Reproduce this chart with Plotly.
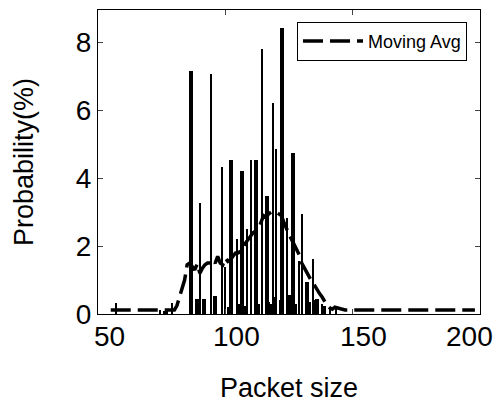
import plotly.graph_objects as go

# ---- data ----
# thick histogram bars (packet size, probability %)
thick_sizes = [86.4, 89.0, 91.5, 95.8, 102.3, 106.5, 112.1, 116.5, 122.4, 126.4, 132.2, 136.0,
               76.5, 118.0, 124.8, 138.8]
thick_probs = [7.17, 0.43, 0.43, 0.52, 4.54, 4.22, 4.54, 3.48, 8.44, 4.75, 0.94, 0.43,
               0.10, 0.30, 0.55, 0.25]

# thin histogram bars
thin_sizes = [57.0, 74.5, 79.0, 90.0, 94.4, 98.7, 100.0, 104.6, 108.6, 110.2, 114.4, 118.6,
              120.1, 124.4, 128.8, 130.1, 134.4, 138.0, 101.0, 105.5, 107.8, 113.3, 117.3,
              119.5, 121.3, 125.5, 127.6, 133.3, 135.2, 141.0, 143.5]
thin_probs = [0.33, 0.12, 0.33, 3.27, 7.07, 4.32, 1.40, 2.22, 2.52, 4.53, 7.80, 6.23,
              4.87, 2.83, 1.55, 2.95, 1.62, 0.30, 0.20, 0.30, 0.25, 0.30, 0.35,
              0.50, 0.40, 0.45, 0.30, 0.35, 0.40, 0.20, 0.15]

# moving average curve
ma_sizes = list(range(55, 199))
ma_vals = ([0.12] * 26 +                                  # 55..80
           [0.25, 0.50, 0.70, 1.00, 1.45, 1.50, 1.40, 1.30, 1.48, 1.20, 1.35, 1.45,  # 81..92
            1.50, 1.50, 1.60, 1.50, 1.70, 1.50, 1.45, 1.65, 1.55, 1.60, 1.70, 1.80,  # 93..104
            1.80, 1.85, 1.90, 2.10, 2.20, 2.30, 2.40, 2.45, 2.50, 2.70, 2.90, 2.85,  # 105..116
            2.95, 3.00, 3.00, 3.00, 2.95, 2.90, 2.70, 2.50, 2.35, 2.20, 2.05, 1.90,  # 117..128
            1.75, 1.50, 1.35, 1.20, 1.10, 0.95, 0.85, 0.70, 0.60, 0.50, 0.35, 0.25,  # 129..140
            0.18, 0.14, 0.20, 0.18, 0.15] +                                          # 141..145
           [0.12] * 53)                                                              # 146..198

x_ticks = [50, 100, 150, 200]
x_tick_labels = ["50", "100", "150", "200"]
y_ticks = [0, 2, 4, 6, 8]

FONT = "Liberation Sans, Arial, sans-serif"

fig = go.Figure()
fig.add_trace(go.Bar(x=thick_sizes, y=thick_probs, width=[1.6] * len(thick_sizes),
                     marker=dict(color="black", line=dict(width=0)), showlegend=False))
fig.add_trace(go.Bar(x=thin_sizes, y=thin_probs, width=[0.45] * len(thin_sizes),
                     marker=dict(color="black", line=dict(width=0)), showlegend=False))
fig.add_trace(go.Scatter(x=ma_sizes, y=ma_vals, mode="lines", name="Moving Avg",
                         line=dict(color="black", width=3.5, dash="20px,7px")))

# x tick labels as text (shifted like the reference, last one pulled inside the page)
for i, (v, lab) in enumerate(zip(x_ticks, x_tick_labels)):
    fig.add_annotation(x=v, y=0, xref="x", yref="paper", text=lab, showarrow=False,
                       yanchor="top", yshift=-5, xshift=(11 if i < len(x_ticks) - 1 else -11),
                       font=dict(size=28, family=FONT, color="black"))

fig.update_layout(
    width=499, height=406,
    margin=dict(l=98, r=19, t=9, b=88),
    paper_bgcolor="white", plot_bgcolor="white",
    barmode="overlay", bargap=0,
    font=dict(family=FONT, color="black"),
    legend=dict(x=0.966, y=0.961, xanchor="right", yanchor="top",
                bordercolor="black", borderwidth=1, bgcolor="white",
                itemwidth=60, font=dict(size=18, family=FONT)),
)
fig.update_xaxes(range=[50, 200], tickvals=x_ticks, ticks="inside", ticklen=5,
                 showticklabels=False,
                 showline=True, linecolor="black", linewidth=1, mirror="ticks",
                 showgrid=False, zeroline=False,
                 title=dict(text="Packet size", font=dict(size=27), standoff=64))
fig.update_yaxes(range=[0, 8.96], tickvals=y_ticks, ticks="inside", ticklen=5,
                 showline=True, linecolor="black", linewidth=1, mirror="ticks",
                 showgrid=False, zeroline=False, tickfont=dict(size=28),
                 title=dict(text="Probability(%)", font=dict(size=27), standoff=34))

fig.write_html("out.html")
